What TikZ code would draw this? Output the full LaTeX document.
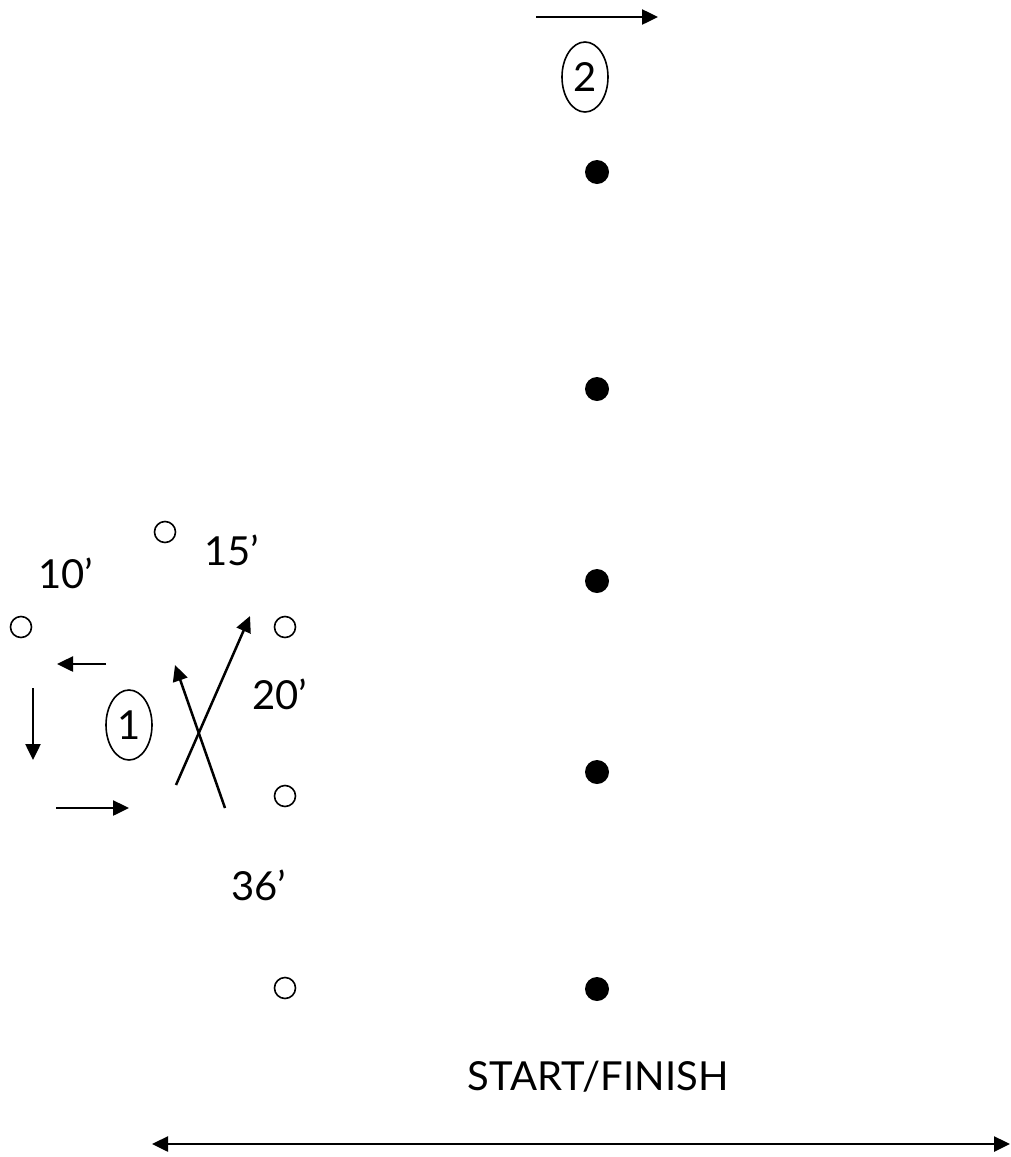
\documentclass[tikz,border=0pt]{standalone}
\usepackage{fontspec}
\setmainfont{Lato}
\usetikzlibrary{arrows.meta,shapes.geometric}
\tikzset{
  fdot/.style={circle,fill=black,inner sep=0pt,minimum size=24pt},
  odot/.style={circle,draw=black,line width=1.6pt,inner sep=0pt,minimum size=21pt},
  lbl/.style={inner sep=0pt,font=\fontsize{40}{48}\selectfont},
  oval/.style={ellipse,draw=black,line width=1.6pt,inner sep=0pt,minimum width=46pt,minimum height=70pt,font=\fontsize{40}{48}\selectfont},
  arr/.style={line width=2.5pt,-{Triangle[length=16pt,width=15pt]}},
  darr/.style={line width=2.5pt,{Triangle[length=16pt,width=15pt]}-{Triangle[length=16pt,width=15pt]}}
}
\begin{document}
\begin{tikzpicture}[x=1pt,y=-1pt]
\useasboundingbox (0,0) rectangle (1010,1157);
% filled cones
\node[fdot] (d1) at (597,172) {};
\node[fdot] (d2) at (597,389) {};
\node[fdot] (d3) at (597,581) {};
\node[fdot] (d4) at (597,772) {};
\node[fdot] (d5) at (597,989) {};
% open cones
\node[odot] (o1) at (165,532) {};
\node[odot] (o2) at (21,627) {};
\node[odot] (o3) at (285,627) {};
\node[odot] (o4) at (285,796) {};
\node[odot] (o5) at (285,988) {};
% ovals
\node[oval] (e2) at (585,77) {2};
\node[oval] (e1) at (129,725) {1};
% labels
\node[lbl] (l10) at (66,573) {10’};
\node[lbl] (l15) at (232,550) {15’};
\node[lbl] (l20) at (280,694) {20’};
\node[lbl] (l36) at (259,885) {36’};
\node[lbl] (sf) at (598,1077) {START/FINISH};
% arrow endpoints
\coordinate (t1) at (536,17); \coordinate (t2) at (658,17);
\coordinate (a1) at (106,664); \coordinate (a2) at (57,664);
\coordinate (b1) at (33,688); \coordinate (b2) at (33,760);
\coordinate (c1) at (56,808); \coordinate (c2) at (129,808);
\coordinate (x1) at (176,785); \coordinate (x2) at (250,616);
\coordinate (y1) at (225,808); \coordinate (y2) at (175,665);
\coordinate (s1) at (152,1144); \coordinate (s2) at (1010,1144);
\draw[arr] (t1) -- (t2);
\draw[arr] (a1) -- (a2);
\draw[arr] (b1) -- (b2);
\draw[arr] (c1) -- (c2);
\draw[arr] (x1) -- (x2);
\draw[arr] (y1) -- (y2);
\draw[darr] (s1) -- (s2);
\end{tikzpicture}
\end{document}
